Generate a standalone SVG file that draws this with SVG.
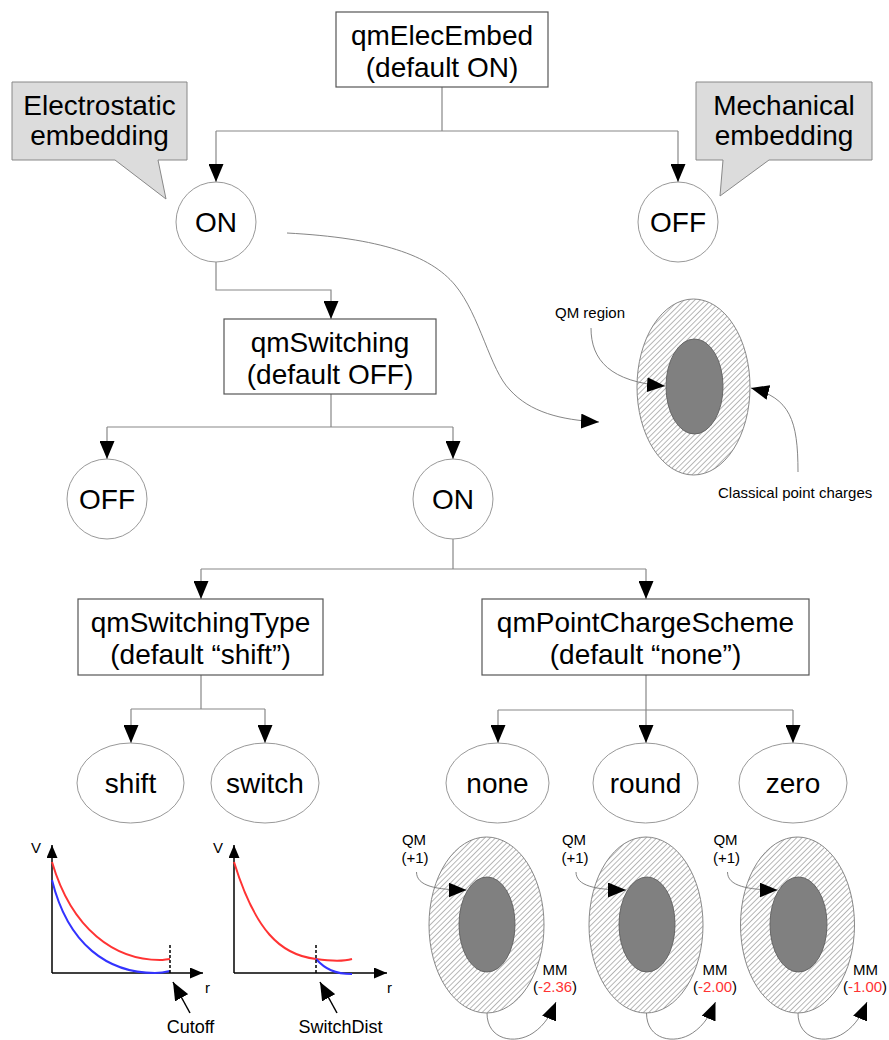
<svg xmlns="http://www.w3.org/2000/svg" width="889" height="1040" viewBox="0 0 889 1040">
<defs>
<style>
text{font-family:"Liberation Sans",Arial,sans-serif;fill:#000}
.big{font-size:28px;text-anchor:middle}
.sm{font-size:15px}
.smc{font-size:15px;text-anchor:middle}
.lbl{font-size:18px;text-anchor:middle}
.box{fill:#fff;stroke:#555;stroke-width:1.2}
.circ{fill:#fff;stroke:#999;stroke-width:1}
.callout{fill:#dcdcdc;stroke:#888;stroke-width:1}
.conn{fill:none;stroke:#888;stroke-width:1.2}
.arr{marker-end:url(#ah)}
.thin{fill:none;stroke:#777;stroke-width:0.9;marker-end:url(#ah)}
.outer{fill:url(#hatch);stroke:#888;stroke-width:1}
.inner{fill:#808080;stroke:#666;stroke-width:1}
.axis{stroke:#000;stroke-width:1.5;fill:none;marker-end:url(#ax)}
.red{fill:none;stroke:#ff3333;stroke-width:2}
.blue{fill:none;stroke:#3333ff;stroke-width:2}
.dash{stroke:#000;stroke-width:1.5;stroke-dasharray:3 2}
.ptr{stroke:#000;stroke-width:1.5;fill:none;marker-end:url(#ah)}
.neg{fill:#ff3333}
</style>
<marker id="ah" viewBox="0 0 18 15" refX="18" refY="7.5" markerWidth="18" markerHeight="15" markerUnits="userSpaceOnUse" orient="auto"><path d="M0,0 L18,7.5 L0,15 z" fill="#000"/></marker>
<marker id="ax" viewBox="0 0 13 11" refX="13" refY="5.5" markerWidth="13" markerHeight="11" markerUnits="userSpaceOnUse" orient="auto"><path d="M0,0 L13,5.5 L0,11 z" fill="#000"/></marker>
<pattern id="hatch" width="3.8" height="3.8" patternUnits="userSpaceOnUse" patternTransform="rotate(45)"><rect width="3.8" height="3.8" fill="#fff"/><rect x="0" y="0" width="0.7" height="3.8" fill="#999"/></pattern>
</defs>

<g id="connectors">
<path class="conn" d="M442,87 V131 M216,131 H678"/>
<path class="conn arr" d="M216,131 V182"/>
<path class="conn arr" d="M678,131 V182"/>
<path class="conn arr" d="M216,262 V290 H331 V319"/>
<path class="conn" d="M331,394 V427 M107,427 H453"/>
<path class="conn arr" d="M107,427 V459"/>
<path class="conn arr" d="M453,427 V459"/>
<path class="conn" d="M453,539 V569 M201,569 H646"/>
<path class="conn arr" d="M201,569 V599"/>
<path class="conn arr" d="M646,569 V599"/>
<path class="conn" d="M201,675 V709 M131,709 H265"/>
<path class="conn arr" d="M131,709 V743"/>
<path class="conn arr" d="M265,709 V743"/>
<path class="conn" d="M646,675 V710 M498,710 H793"/>
<path class="conn arr" d="M498,710 V743"/>
<path class="conn arr" d="M646,710 V743"/>
<path class="conn arr" d="M793,710 V743"/>
<path class="thin" d="M287,233 C380,238 430,255 455,285 C480,315 490,370 510,390 C530,412 560,420 599,422"/>
</g>

<g id="callout-electrostatic">
<polygon class="callout" points="12,82 187,82 187,160 158,160 166,199 115,160 12,160"/>
<text class="big" x="99.5" y="115">Electrostatic</text>
<text class="big" x="99.5" y="145">embedding</text>
</g>
<g id="callout-mechanical">
<polygon class="callout" points="696,82 872,82 872,160 769,160 720,196 723,160 696,160"/>
<text class="big" x="784" y="115">Mechanical</text>
<text class="big" x="784" y="145">embedding</text>
</g>

<g id="qmElecEmbed">
<rect class="box" x="336" y="12" width="212" height="75"/>
<text class="big" x="442" y="45">qmElecEmbed</text>
<text class="big" x="442" y="77">(default ON)</text>
</g>
<g id="elec-on">
<circle class="circ" cx="216" cy="222" r="40"/>
<text class="big" x="216" y="232">ON</text>
</g>
<g id="elec-off">
<circle class="circ" cx="678" cy="222" r="40"/>
<text class="big" x="678" y="232">OFF</text>
</g>

<g id="qm-region">
<ellipse class="outer" cx="693.5" cy="387" rx="56.5" ry="88"/>
<ellipse class="inner" cx="694.5" cy="386.5" rx="28.5" ry="47.5"/>
<text class="sm" x="555" y="318">QM region</text>
<path class="thin" d="M591,328 C591,360 610,382 665,386"/>
<text class="sm" x="718" y="498">Classical point charges</text>
<path class="thin" d="M798,472 C798,420 790,398 751,388"/>
</g>

<g id="qmSwitching">
<rect class="box" x="224" y="319" width="212" height="75"/>
<text class="big" x="330" y="352">qmSwitching</text>
<text class="big" x="330" y="384">(default OFF)</text>
</g>
<g id="sw-off">
<circle class="circ" cx="107" cy="499" r="40"/>
<text class="big" x="107" y="509">OFF</text>
</g>
<g id="sw-on">
<circle class="circ" cx="453" cy="499" r="40"/>
<text class="big" x="453" y="509">ON</text>
</g>

<g id="qmSwitchingType">
<rect class="box" x="78" y="599" width="245" height="76"/>
<text class="big" x="200.5" y="632">qmSwitchingType</text>
<text class="big" x="200.5" y="664">(default “shift”)</text>
</g>
<g id="qmPointChargeScheme">
<rect class="box" x="482" y="599" width="327" height="76"/>
<text class="big" x="645.5" y="632">qmPointChargeScheme</text>
<text class="big" x="645.5" y="664">(default “none”)</text>
</g>

<g id="shift">
<ellipse class="circ" cx="130.5" cy="783" rx="53.5" ry="40"/>
<text class="big" x="130.5" y="793">shift</text>
</g>
<g id="switch">
<ellipse class="circ" cx="265" cy="783" rx="54" ry="40"/>
<text class="big" x="265" y="793">switch</text>
</g>
<g id="none">
<ellipse class="circ" cx="497.5" cy="783" rx="51.5" ry="40"/>
<text class="big" x="497.5" y="793">none</text>
</g>
<g id="round">
<ellipse class="circ" cx="645.5" cy="783" rx="52.5" ry="40"/>
<text class="big" x="645.5" y="793">round</text>
</g>
<g id="zero">
<ellipse class="circ" cx="793" cy="783" rx="54" ry="40"/>
<text class="big" x="793" y="793">zero</text>
</g>

<g id="graph-shift">
<path class="axis" d="M52,973 V845"/>
<path class="axis" d="M52,973 H203"/>
<text class="smc" x="36" y="853">V</text>
<text class="sm" x="205" y="993">r</text>
<path class="red" d="M52,862 C72,930 115,960 160,960 C164,960 167,959 170,959"/>
<path class="blue" d="M52,880 C68,945 108,973 155,973 C162,973 166,972 170,971"/>
<line class="dash" x1="170" y1="945" x2="170" y2="973"/>
<path class="ptr" d="M190,1013 L173,982"/>
<text class="lbl" x="190.5" y="1033">Cutoff</text>
</g>
<g id="graph-switch">
<path class="axis" d="M234,973 V845"/>
<path class="axis" d="M234,973 H387"/>
<text class="smc" x="218" y="853">V</text>
<text class="sm" x="387" y="993">r</text>
<path class="red" d="M234,862 C255,930 280,955 316,959 C330,961 345,961 352,959"/>
<path class="blue" d="M316,959 C325,969 335,974 352,974"/>
<line class="dash" x1="316" y1="945" x2="316" y2="973"/>
<path class="ptr" d="M337,1013 L320,982"/>
<text class="lbl" x="340.5" y="1033">SwitchDist</text>
</g>

<g id="charge-none">
<ellipse class="outer" cx="486.5" cy="925" rx="57.5" ry="88"/>
<ellipse class="inner" cx="487" cy="924.5" rx="28" ry="47.5"/>
<text class="smc" x="414" y="845">QM</text>
<text class="smc" x="415" y="863">(+1)</text>
<path class="thin" d="M416.5,872 C416.5,886 436,890 466.5,890"/>
<text class="smc" x="555" y="975">MM</text>
<text class="smc" x="555" y="992">(<tspan class="neg">-2.36</tspan>)</text>
<path class="thin" d="M487,1013 C487,1040 515,1045 533,1033 C545,1025 551,1014 556,1002"/>
</g>
<g id="charge-round">
<ellipse class="outer" cx="646" cy="925" rx="57" ry="88"/>
<ellipse class="inner" cx="647" cy="924.5" rx="28" ry="47.5"/>
<text class="smc" x="574" y="845">QM</text>
<text class="smc" x="575" y="863">(+1)</text>
<path class="thin" d="M576,872 C576,886 596,890 626,890"/>
<text class="smc" x="715" y="975">MM</text>
<text class="smc" x="715" y="992">(<tspan class="neg">-2.00</tspan>)</text>
<path class="thin" d="M646.5,1013 C646.5,1040 674.5,1045 692.5,1033 C704.5,1025 710.5,1014 715.5,1002"/>
</g>
<g id="charge-zero">
<ellipse class="outer" cx="797.5" cy="925" rx="57" ry="88"/>
<ellipse class="inner" cx="798.5" cy="924.5" rx="28.5" ry="47.5"/>
<text class="smc" x="725.5" y="845">QM</text>
<text class="smc" x="726.5" y="863">(+1)</text>
<path class="thin" d="M727.5,872 C727.5,886 747.5,890 777.5,890"/>
<text class="smc" x="865.5" y="975">MM</text>
<text class="smc" x="865" y="992">(<tspan class="neg">-1.00</tspan>)</text>
<path class="thin" d="M798,1013 C798,1040 826,1045 844,1033 C856,1025 862,1014 867,1002"/>
</g>
</svg>
